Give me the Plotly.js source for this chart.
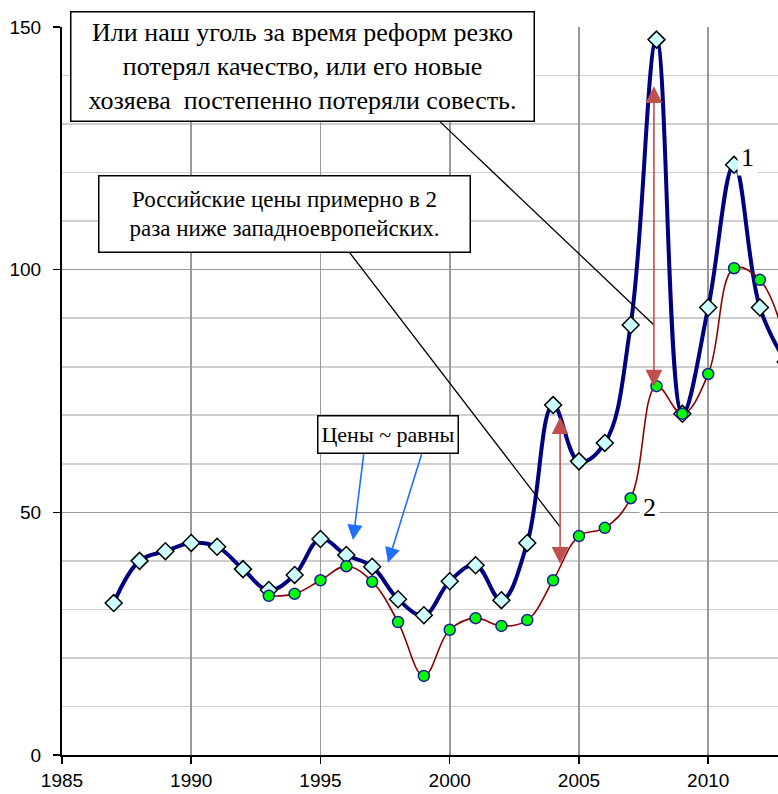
<!DOCTYPE html>
<html>
<head>
<meta charset="utf-8">
<script src="https://cdn.plot.ly/plotly-3.0.1.min.js"></script>
<style>html,body{margin:0;padding:0;background:#fff;}#chart{width:778px;height:794px;}</style>
</head>
<body>
<div id="chart"></div>
<script>
// Series 1 (Western European prices)
const years1 = [1987,1988,1989,1990,1991,1992,1993,1994,1995,1996,1997,1998,1999,2000,2001,2002,2003,2004,2005,2006,2007,2008,2009,2010,2011,2012,2013];
const values1 = [31.3,40.0,42.0,43.7,42.9,38.3,34.0,37.1,44.5,41.2,38.8,32.1,28.8,35.8,39.1,31.9,43.7,72.1,60.5,64.3,88.6,147.4,70.3,92.2,121.6,92.2,81];
// Series 2 (Russian prices)
const years2 = [1993,1994,1995,1996,1997,1998,1999,2000,2001,2002,2003,2004,2005,2006,2007,2008,2009,2010,2011,2012,2013];
const values2 = [32.8,33.2,36.0,38.9,35.7,27.4,16.3,25.8,28.2,26.6,27.8,36.0,45.1,46.8,52.9,76.0,70.3,78.5,100.3,97.9,85];
// Axis ticks
const xTicks = [1985,1990,1995,2000,2005,2010];
const yTicks = [0,50,100,150];

const serif = 'Times New Roman';
const sans = 'Liberation Sans, Arial, sans-serif';

const traces = [
  {x: years1, y: values1, type:'scatter', mode:'lines+markers',
   line:{color:'#000080', width:4, shape:'spline', smoothing:1.1},
   marker:{symbol:'diamond', size:13, color:'#ccffff', line:{color:'#000000', width:1.5}},
   hoverinfo:'skip', showlegend:false, cliponaxis:true},
  {x: years2, y: values2, type:'scatter', mode:'lines+markers',
   line:{color:'#8b0000', width:1.6, shape:'spline', smoothing:1.1},
   marker:{symbol:'circle', size:11, color:'#00ff00', line:{color:'#1a1a99', width:1.5}},
   hoverinfo:'skip', showlegend:false, cliponaxis:true}
];

function boxNote(text, x, y, w, h, size){
  return {text:text, xref:'paper', yref:'paper', x:x, y:y, xanchor:'center', yanchor:'middle',
    showarrow:false, width:w, height:h, align:'center', bgcolor:'#ffffff',
    bordercolor:'#000000', borderwidth:1.5, borderpad:0,
    font:{family:serif, size:size, color:'#000000'}};
}
function arrowNote(x, y, ax, ay, color, both, sz){
  return {text:'', x:x, y:y, ax:ax, ay:ay, xref:'x', yref:'y', axref:'x', ayref:'y',
    showarrow:true, arrowhead:2, startarrowhead:2, arrowside: both ? 'end+start' : 'end',
    arrowsize:sz, startarrowsize:sz, arrowwidth:1.6, arrowcolor:color, standoff:0, startstandoff:0};
}

const annotations = [
  boxNote('Или наш уголь за время реформ резко<br>потерял качество, или его новые<br>хозяева  постепенно потеряли совесть.', 0.3352, 0.9451, 462, 108, 26),
  boxNote('Российские цены примерно в 2<br>раза ниже западноевропейских.', 0.3101, 0.7438, 370, 75, 23),
  boxNote('Цены ~ равны', 0.456, 0.4409, 139, 36, 22),
  arrowNote(1996.26, 44.3, 1996.68, 62.3, '#1e6eff', false, 1.9),
  arrowNote(1997.61, 39.6, 1998.93, 62.3, '#1e6eff', false, 1.9),
  arrowNote(2004.27, 39.4, 2004.27, 69.9, '#c0504d', true, 2.1),
  arrowNote(2007.90, 75.9, 2007.90, 138.1, '#c0504d', true, 2.1),
  {text:'1', xref:'paper', yref:'paper', x:0.958, y:0.8214, xanchor:'center', yanchor:'middle',
   showarrow:false, bgcolor:'#ffffff', borderpad:3, font:{family:serif, size:26, color:'#000'}},
  {text:'2', xref:'paper', yref:'paper', x:0.8212, y:0.3393, xanchor:'center', yanchor:'middle',
   showarrow:false, bgcolor:'#ffffff', borderpad:3, font:{family:serif, size:26, color:'#000'}}
];

const shapes = [
  {type:'line', xref:'x', yref:'y', x0:1999.62, y0:130.5, x1:2007.90, y1:88.6, line:{color:'#000', width:1.3}, layer:'above'},
  {type:'line', xref:'x', yref:'y', x0:1996.10, y0:103.7, x1:2004.27, y1:47.0, line:{color:'#000', width:1.3}, layer:'above'}
];

const layout = {
  width:778, height:794,
  margin:{l:62, r:0, t:27, b:39, pad:0},
  paper_bgcolor:'#ffffff', plot_bgcolor:'#ffffff',
  showlegend:false,
  xaxis:{range:[1985, 2012.7], tickvals:xTicks, ticktext:xTicks.map(String),
    showgrid:true, gridcolor:'#999999', gridwidth:1.6,
    showline:true, linecolor:'#000000', linewidth:2,
    ticks:'outside', ticklen:7, tickwidth:1.5, tickcolor:'#000',
    zeroline:false, fixedrange:true, ticklabelstandoff:0,
    tickfont:{family:sans, size:19, color:'#000'}},
  yaxis:{range:[0,150], tickvals:yTicks, ticktext:yTicks.map(String),
    showgrid:true, gridcolor:'#999999', gridwidth:1.6,
    minor:{dtick:10, tick0:0, showgrid:true, gridcolor:'#cfcfcf', gridwidth:1.6, ticks:''},
    showline:true, linecolor:'#000000', linewidth:2,
    ticks:'outside', ticklen:7, tickwidth:1.5, tickcolor:'#000',
    zeroline:false, fixedrange:true, ticklabelstandoff:8,
    tickfont:{family:sans, size:19, color:'#000'}},
  annotations:annotations,
  shapes:shapes
};

Plotly.newPlot('chart', traces, layout, {displayModeBar:false, staticPlot:true});
</script>
</body>
</html>
